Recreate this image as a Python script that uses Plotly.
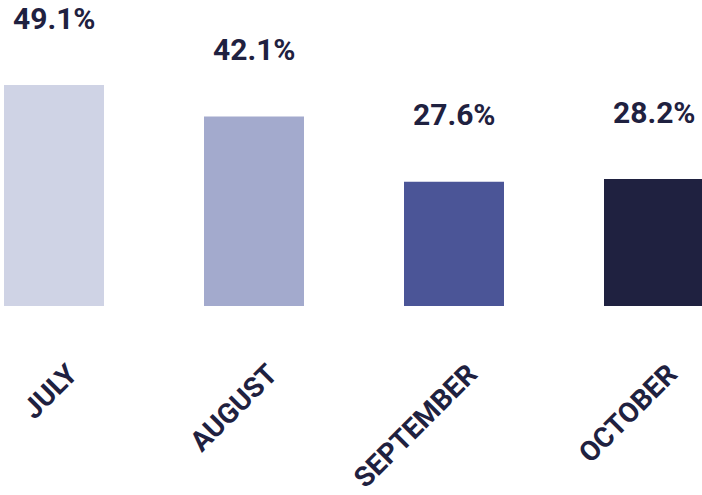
import plotly.graph_objects as go

months = ["JULY", "AUGUST", "SEPTEMBER", "OCTOBER"]
values = [49.1, 42.1, 27.6, 28.2]
labels = ["49.1%", "42.1%", "27.6%", "28.2%"]
colors = ["#cfd3e5", "#a3aacd", "#4b5597", "#1f2140"]
text_color = "#1f2140"

fig = go.Figure(go.Bar(
    x=months, y=values, marker=dict(color=colors, line=dict(width=0)),
    width=0.5, hoverinfo="skip",
))

for m, v, t in zip(months, values, labels):
    fig.add_annotation(x=m, y=v, text=t, showarrow=False, yanchor="middle",
                       yshift=67, font=dict(family="Roboto", size=30, color=text_color,
                                            weight="bold"))

fig.update_layout(
    width=702, height=495,
    margin=dict(l=0, r=0, t=0, b=189),
    paper_bgcolor="white", plot_bgcolor="white",
    showlegend=False,
    xaxis=dict(range=[-0.27, 3.24], showgrid=False, zeroline=False, showline=False,
               tickangle=-45, ticks="", ticklabelstandoff=45, ticklabelshift=15,
               tickfont=dict(family="Roboto", size=28, color=text_color, weight="bold")),
    yaxis=dict(range=[0, 68], visible=False),
)

fig.write_html("out.html", config={"displayModeBar": False},
               post_script="document.body.style.margin='0';")
